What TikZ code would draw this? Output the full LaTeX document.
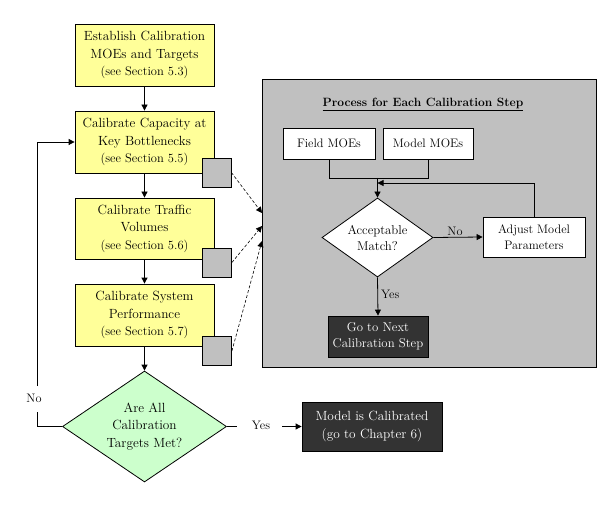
\documentclass[tikz,border=0pt]{standalone}
\usetikzlibrary{arrows.meta,shapes.geometric}
\definecolor{yel}{HTML}{FFFF99}
\definecolor{grn}{HTML}{CCFFCC}
\definecolor{gry}{HTML}{C0C0C0}
\definecolor{drk}{HTML}{333333}
\begin{document}
\begin{tikzpicture}[x=1pt,y=-1pt,
  line width=0.8pt,
  arr/.style={-{Triangle[length=6pt,width=6pt]}},
  darr/.style={-{Triangle[length=6pt,width=6pt]},dashed,dash pattern=on 3pt off 2pt,line width=0.6pt},
  stepbox/.style={draw,fill=yel,minimum width=139pt,minimum height=62pt,inner sep=0pt,align=center,font=\fontsize{13.3}{17.5}\selectfont},
  sqbox/.style={draw,fill=gry,minimum width=29pt,minimum height=29pt,inner sep=0pt},
  wbox/.style={draw,fill=white,inner sep=0pt,align=center,font=\fontsize{12.3}{16}\selectfont},
  dbox/.style={draw,fill=drk,text=white,inner sep=0pt,align=center,font=\fontsize{12.3}{16}\selectfont},
  lbl/.style={font=\fontsize{12.3}{14}\selectfont,inner sep=1pt},
  note/.style={font=\fontsize{12.5}{17.5}\selectfont}
]
\useasboundingbox (0,0) rectangle (605,505);
% left column
\node[stepbox] (b1) at (144.5,55) {Establish Calibration\\MOEs and Targets\\{\fontsize{12.5}{17.5}\selectfont (see Section 5.3)}};
\node[stepbox] (b2) at (144.5,142) {Calibrate Capacity at\\Key Bottlenecks\\{\fontsize{12.5}{17.5}\selectfont (see Section 5.5)}};
\node[stepbox,minimum height=61pt] (b3) at (144.5,228.5) {Calibrate Traffic\\Volumes\\{\fontsize{12.5}{17.5}\selectfont (see Section 5.6)}};
\node[stepbox] (b4) at (144.5,315) {Calibrate System\\Performance\\{\fontsize{12.5}{17.5}\selectfont (see Section 5.7)}};
\node[draw,fill=grn,shape=diamond,minimum width=164pt,minimum height=111pt,inner sep=0pt,aspect=1.48,align=center,font=\fontsize{13.3}{17.5}\selectfont] (big) at (144.5,426.5) {Are All\\Calibration\\Targets Met?};
\node[dbox,minimum width=140pt,minimum height=49pt,font=\fontsize{13.3}{17.5}\selectfont] (done) at (372,426.5) {Model is Calibrated\\(go to Chapter 6)};
% small squares
\node[sqbox] (s1) at (216.5,172.5) {};
\node[sqbox] (s2) at (217,262.5) {};
\node[sqbox] (s3) at (217,351) {};
% vertical arrows
\draw[arr] (b1) -- (b2);
\draw[arr] (b2) -- (b3);
\draw[arr] (b3) -- (b4);
\draw[arr] (b4) -- (big.north);
% yes / no from big diamond
\coordinate (y1) at (237,426.5);
\coordinate (y2) at (282,426.5);
\draw (big.east) -- (y1);
\node[lbl] (yesl) at (261,425) {Yes};
\draw[arr] (y2) -- (done.west);
\coordinate (n0) at (37,426.5);
\coordinate (n1) at (37,412);
\coordinate (n2) at (37,386);
\coordinate (n3) at (37,142);
\draw (big.west) -- (n0) -- (n1);
\node[lbl] (nol) at (34,398) {No};
\draw[arr] (n2) -- (n3) -- (b2.west);
% panel
\node[draw,fill=gry,minimum width=334pt,minimum height=288pt,inner sep=0pt] (panel) at (429,223) {};
\node[font=\fontsize{12}{14}\selectfont\bfseries] (title) at (423,104) {\underline{Process for Each Calibration Step}};
\node[wbox,minimum width=92pt,minimum height=31pt] (field) at (329,143.5) {Field MOEs};
\node[wbox,minimum width=90pt,minimum height=31pt] (model) at (428,143.5) {Model MOEs};
\node[draw,fill=white,shape=diamond,minimum width=111pt,minimum height=79pt,inner sep=0pt,aspect=1.4,align=center,font=\fontsize{12.8}{16}\selectfont] (acc) at (377.5,237.5) {Acceptable\\Match?};
\node[wbox,minimum width=102pt,minimum height=40pt] (adj) at (534,237) {Adjust Model\\Parameters};
\node[dbox,minimum width=100pt,minimum height=41pt,font=\fontsize{12.8}{16}\selectfont] (go) at (378,336.5) {Go to Next\\Calibration Step};
\coordinate (mrg) at (377.5,178);
\coordinate (lp) at (377.5,183);
\draw (field.south) -- (field.south |- mrg) -- (model.south |- mrg) -- (model.south);
\draw[arr] (mrg) -- (acc.north);
\draw[arr] (adj.north) |- (lp);
\draw[arr] (acc.east) -- (adj.west) node[midway,above,lbl,xshift=-3pt] {No};
\draw[arr] (acc.south) -- (go.north) node[midway,right,lbl,xshift=2pt,yshift=2pt] {Yes};
% dashed connectors
\coordinate (t1) at (262,213);
\coordinate (t2) at (262,226);
\coordinate (t3) at (262,241);
\draw[darr] (s1.east) -- (t1);
\draw[darr] (s2.east) -- (t2);
\draw[darr] (s3.east) -- (t3);
\end{tikzpicture}
\end{document}
